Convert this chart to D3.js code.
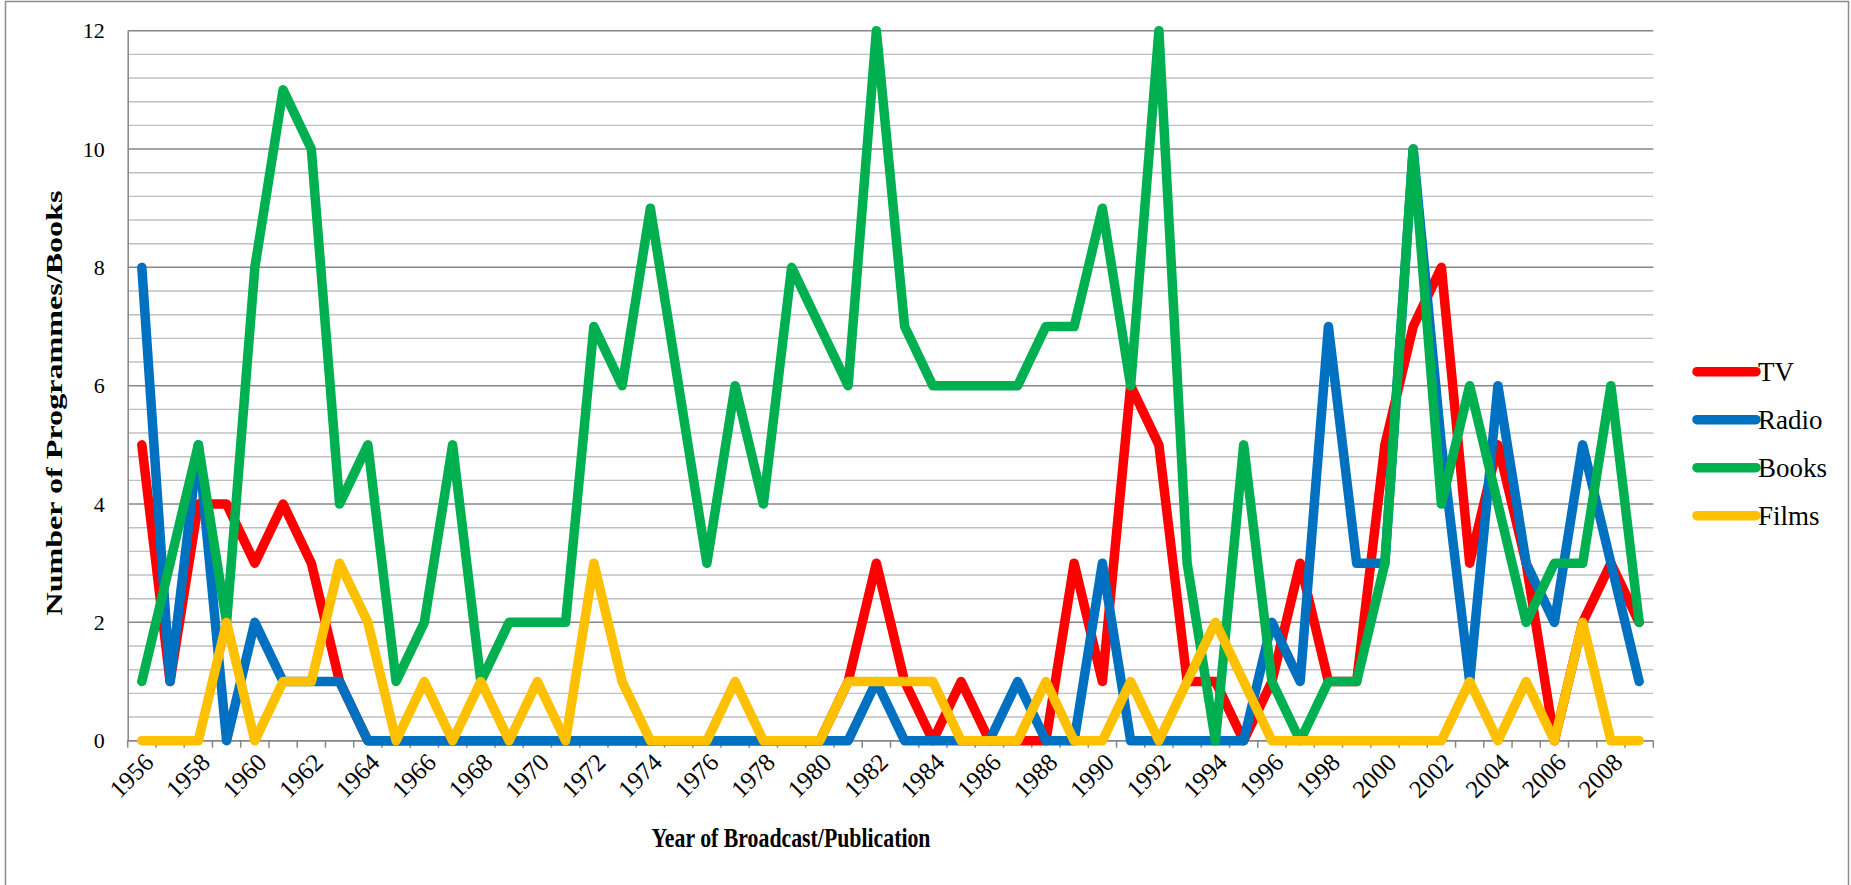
<!DOCTYPE html>
<html>
<head>
<meta charset="utf-8">
<script src="https://cdn.jsdelivr.net/npm/d3@7"></script>
<style>
  body { margin: 0; background: #fff; }
  text { font-family: "Liberation Serif", "DejaVu Serif", serif; fill: #000; }
</style>
</head>
<body>
<script>
// categories
const years = [1956, 1957, 1958, 1959, 1960, 1961, 1962, 1963, 1964, 1965,
  1966, 1967, 1968, 1969, 1970, 1971, 1972, 1973, 1974, 1975,
  1976, 1977, 1978, 1979, 1980, 1981, 1982, 1983, 1984, 1985,
  1986, 1987, 1988, 1989, 1990, 1991, 1992, 1993, 1994, 1995,
  1996, 1997, 1998, 1999, 2000, 2001, 2002, 2003, 2004, 2005,
  2006, 2007, 2008, 2009];

// series values, one per year
const tv = [5, 1, 4, 4, 3, 4, 3, 1, 0, 0,
  0, 0, 0, 0, 0, 0, 0, 0, 0, 0,
  0, 0, 0, 0, 0, 1, 3, 1, 0, 1,
  0, 0, 0, 3, 1, 6, 5, 1, 1, 0,
  1, 3, 1, 1, 5, 7, 8, 3, 5, 3,
  0, 2, 3, 2];
const radio = [8, 1, 5, 0, 2, 1, 1, 1, 0, 0,
  0, 0, 0, 0, 0, 0, 0, 0, 0, 0,
  0, 0, 0, 0, 0, 0, 1, 0, 0, 0,
  0, 1, 0, 0, 3, 0, 0, 0, 0, 0,
  2, 1, 7, 3, 3, 10, 5, 1, 6, 3,
  2, 5, 3, 1];
const books = [1, 3, 5, 2, 8, 11, 10, 4, 5, 1,
  2, 5, 1, 2, 2, 2, 7, 6, 9, 6,
  3, 6, 4, 8, 7, 6, 12, 7, 6, 6,
  6, 6, 7, 7, 9, 6, 12, 3, 0, 5,
  1, 0, 1, 1, 3, 10, 4, 6, 4, 2,
  3, 3, 6, 2];
const films = [0, 0, 0, 2, 0, 1, 1, 3, 2, 0,
  1, 0, 1, 0, 1, 0, 3, 1, 0, 0,
  0, 1, 0, 0, 0, 1, 1, 1, 1, 0,
  0, 0, 1, 0, 0, 1, 0, 1, 2, 1,
  0, 0, 0, 0, 0, 0, 0, 1, 0, 1,
  0, 2, 0, 0];

// tick labels
const yearLabels = [1956, 1958, 1960, 1962, 1964, 1966, 1968, 1970, 1972, 1974,
  1976, 1978, 1980, 1982, 1984, 1986, 1988, 1990, 1992, 1994,
  1996, 1998, 2000, 2002, 2004, 2006, 2008];
const yTicks = [0, 2, 4, 6, 8, 10, 12];
const seriesNames = ["TV", "Radio", "Books", "Films"];
const seriesColors = ["#FF0000", "#0070C0", "#00B050", "#FFC000"];

const W = 1851, H = 885;
const plotLeft = 127.7, plotRight = 1653.3, plotTop = 30.7, plotBottom = 740.7;

const svg = d3.select("body").append("svg")
  .attr("width", W)
  .attr("height", H);

// chart border
svg.append("rect")
  .attr("x", 5.5).attr("y", 1.5)
  .attr("width", 1843).attr("height", 920)
  .attr("fill", "none")
  .attr("stroke", "#8c8c8c")
  .attr("stroke-width", 1.5);

const x = d3.scaleBand()
  .domain(years)
  .range([plotLeft, plotRight])
  .padding(0);

const y = d3.scaleLinear()
  .domain([0, 12])
  .range([plotBottom, plotTop]);

const cx = d => x(d) + x.bandwidth() / 2;

// minor gridlines every 0.4, major every 2
const minor = d3.range(0, 12.001, 0.4).filter(v => Math.abs(v / 2 - Math.round(v / 2)) > 1e-6);
svg.append("g")
  .selectAll("line")
  .data(minor)
  .join("line")
  .attr("x1", plotLeft).attr("x2", plotRight)
  .attr("y1", d => y(d)).attr("y2", d => y(d))
  .attr("stroke", "#c0c0c0")
  .attr("stroke-width", 1.4);

svg.append("g")
  .selectAll("line")
  .data(yTicks)
  .join("line")
  .attr("x1", plotLeft).attr("x2", plotRight)
  .attr("y1", d => y(d)).attr("y2", d => y(d))
  .attr("stroke", "#868686")
  .attr("stroke-width", 1.5);

// y axis
const yAxis = svg.append("g")
  .attr("transform", `translate(${plotLeft},0)`)
  .call(d3.axisLeft(y).tickValues(yTicks).tickSize(0).tickPadding(23));
yAxis.attr("font-family", null);
yAxis.select(".domain").attr("stroke", "#868686").attr("stroke-width", 1.5);
yAxis.selectAll("text")
  .style("font-size", "22px");

// x axis: ticks at category boundaries, labels every other year
const xAxis = svg.append("g").attr("transform", `translate(0,${plotBottom})`);
xAxis.append("line")
  .attr("x1", plotLeft).attr("x2", plotRight)
  .attr("stroke", "#868686").attr("stroke-width", 1.5);
xAxis.selectAll("line.tick")
  .data(years.map(d => x(d)).concat([plotRight]))
  .join("line")
  .attr("class", "tick")
  .attr("x1", d => d).attr("x2", d => d)
  .attr("y1", 0).attr("y2", 7)
  .attr("stroke", "#868686").attr("stroke-width", 1.5);
xAxis.selectAll("text")
  .data(yearLabels)
  .join("text")
  .attr("transform", d => `translate(${cx(d) + 7},${17}) rotate(-45)`)
  .attr("text-anchor", "end")
  .attr("dy", "0.35em")
  .style("font-size", "25px")
  .text(d => d);

// lines
const line = d3.line()
  .x((d, i) => cx(years[i]))
  .y(d => y(d));

const allSeries = [tv, radio, books, films];
svg.append("g")
  .selectAll("path")
  .data(allSeries)
  .join("path")
  .attr("d", d => line(d))
  .attr("fill", "none")
  .attr("stroke", (d, i) => seriesColors[i])
  .attr("stroke-width", 9.5)
  .attr("stroke-linejoin", "round")
  .attr("stroke-linecap", "round");

// axis titles
svg.append("text")
  .attr("x", 791).attr("y", 847)
  .attr("text-anchor", "middle")
  .attr("textLength", 279)
  .attr("lengthAdjust", "spacingAndGlyphs")
  .style("font-size", "27px")
  .style("font-weight", "bold")
  .text("Year of Broadcast/Publication");

svg.append("text")
  .attr("transform", "translate(54,403) rotate(-90)")
  .attr("text-anchor", "middle")
  .attr("dy", "0.35em")
  .attr("textLength", 425)
  .attr("lengthAdjust", "spacingAndGlyphs")
  .style("font-size", "24px")
  .style("font-weight", "bold")
  .text("Number of Programmes/Books");

// legend
const legend = svg.append("g")
  .selectAll("g")
  .data(seriesNames)
  .join("g")
  .attr("transform", (d, i) => `translate(1697,${371.7 + i * 48})`);
legend.append("line")
  .attr("x1", 0).attr("x2", 59)
  .attr("stroke", (d, i) => seriesColors[i])
  .attr("stroke-width", 9.5)
  .attr("stroke-linecap", "round");
legend.append("text")
  .attr("x", 61)
  .attr("dy", "0.35em")
  .style("font-size", "27px")
  .text(d => d);
</script>
</body>
</html>
